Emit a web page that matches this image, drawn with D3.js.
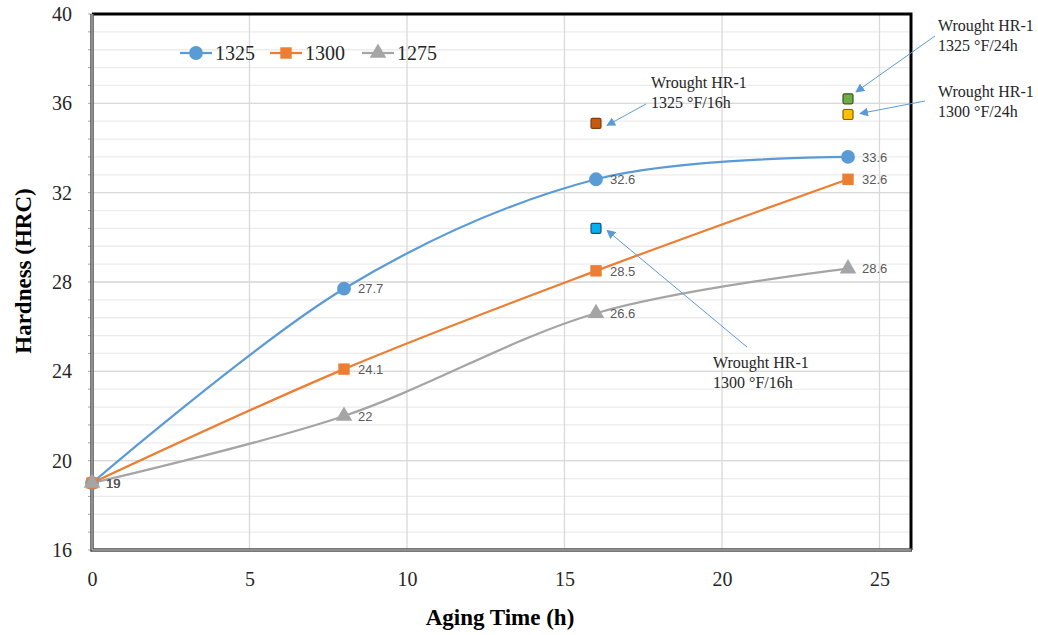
<!DOCTYPE html>
<html>
<head>
<meta charset="utf-8">
<title>Hardness vs aging time</title>
<script src="https://cdn.jsdelivr.net/npm/d3@7"></script>
<style>
  body { margin: 0; background: #fff; }
</style>
</head>
<body>
<script>

// Aging times (h) and hardness (HRC) per aging temperature
var times = [0, 8, 16, 24];
var hrc1325 = [19, 27.7, 32.6, 33.6];
var hrc1300 = [19, 24.1, 28.5, 32.6];
var hrc1275 = [19, 22, 26.6, 28.6];
var seriesNames = ["1325", "1300", "1275"];

// Wrought HR-1 reference points
var wroughtLabels = ["1325 °F/16h", "1300 °F/16h", "1325 °F/24h", "1300 °F/24h"];
var wroughtTimes = [16, 16, 24, 24];
var wroughtHrc = [35.1, 30.4, 36.2, 35.5];

// Tick labels
var xTicks = [0, 5, 10, 15, 20, 25];
var yTicks = [16, 20, 24, 28, 32, 36, 40];

drawChart();

function drawChart(){

  var w = 1038;
  var h = 635;
  var margin = {top: 14, right: 127, bottom: 85, left: 92};
  var gw = w - margin.left - margin.right;
  var gh = h - margin.top - margin.bottom;

  var svg = d3.select("body")
              .append("svg")
              .attr("width", w)
              .attr("height", h);

  var graph = svg.append("g")
                 .attr("transform", `translate(${margin.left}, ${margin.top})`);

  var xScale = d3.scaleLinear().domain([0, 26]).range([0, gw]);
  var yScale = d3.scaleLinear().domain([16, 40]).range([gh, 0]);

  // Minor horizontal gridlines (every 0.8)
  var minor = d3.range(16, 40.01, 0.8);
  graph.append("g").selectAll("line")
       .data(minor)
       .enter().append("line")
       .attr("x1", 0).attr("x2", gw)
       .attr("y1", d => yScale(d)).attr("y2", d => yScale(d))
       .attr("stroke", "#ececec")
       .attr("stroke-width", 1.3);

  // Major gridlines
  graph.append("g").selectAll("line")
       .data(yTicks)
       .enter().append("line")
       .attr("x1", 0).attr("x2", gw)
       .attr("y1", d => yScale(d)).attr("y2", d => yScale(d))
       .attr("stroke", "#d9d9d9")
       .attr("stroke-width", 1.3);

  graph.append("g").selectAll("line")
       .data(xTicks.slice(1))
       .enter().append("line")
       .attr("x1", d => xScale(d)).attr("x2", d => xScale(d))
       .attr("y1", 0).attr("y2", gh)
       .attr("stroke", "#d9d9d9")
       .attr("stroke-width", 1.3);

  // Small ticks on the left of the y axis
  graph.append("g").selectAll("line")
       .data(minor)
       .enter().append("line")
       .attr("x1", -4).attr("x2", 0)
       .attr("y1", d => yScale(d)).attr("y2", d => yScale(d))
       .attr("stroke", "#a6a6a6");

  // Frame: black top and right, double grey on left and bottom
  graph.append("path")
       .attr("d", `M0,0 H${gw} V${gh}`)
       .attr("fill", "none")
       .attr("stroke", "#000")
       .attr("stroke-width", 3);

  graph.append("path")
       .attr("d", `M0,0 V${gh} H${gw + 1}`)
       .attr("fill", "none")
       .attr("stroke", "#4d4d4d")
       .attr("stroke-width", 3.5);
  graph.append("path")
       .attr("d", `M0,0 V${gh} H${gw}`)
       .attr("fill", "none")
       .attr("stroke", "#d0d0d0")
       .attr("stroke-width", 1);

  // Axes (labels only)
  var xAxis = graph.append("g")
                   .attr("transform", `translate(0, ${gh})`)
                   .call(d3.axisBottom(xScale).tickValues(xTicks).tickSize(0).tickPadding(22));
  var yAxis = graph.append("g")
                   .call(d3.axisLeft(yScale).tickValues(yTicks).tickSize(0).tickPadding(20));

  [xAxis, yAxis].forEach(a => {
    a.select(".domain").remove();
    a.selectAll("text")
     .attr("font-family", "'Liberation Serif', 'Times New Roman', serif")
     .attr("font-size", 20)
     .attr("fill", "#262626");
  });

  // Axis titles
  svg.append("text")
     .attr("x", 500)
     .attr("y", 625)
     .attr("text-anchor", "middle")
     .attr("font-family", "'Liberation Serif', 'Times New Roman', serif")
     .attr("font-weight", "bold")
     .attr("font-size", 23)
     .text("Aging Time (h)");

  svg.append("text")
     .attr("transform", "translate(31, 271) rotate(-90)")
     .attr("text-anchor", "middle")
     .attr("font-family", "'Liberation Serif', 'Times New Roman', serif")
     .attr("font-weight", "bold")
     .attr("font-size", 23)
     .text("Hardness (HRC)");

  // Series
  var colors = ["#5b9bd5", "#ed7d31", "#a5a5a5"];
  var symbols = [d3.symbolCircle, d3.symbolSquare, d3.symbolTriangle];
  var sizes = [150, 130, 120];
  var allSeries = [hrc1325, hrc1300, hrc1275];

  var line = d3.line()
               .x((d, i) => xScale(times[i]))
               .y(d => yScale(d))
               .curve(d3.curveCardinal.tension(0));

  // draw in reverse so 1325 sits on top
  for (var s = 2; s >= 0; s--) {
    var vals = allSeries[s];
    graph.append("path")
         .attr("d", line(vals))
         .attr("fill", "none")
         .attr("stroke", colors[s])
         .attr("stroke-width", 2.25);
  }

  for (var s = 0; s < 3; s++) {
    var vals = allSeries[s];
    graph.append("g").selectAll("path")
         .data(vals)
         .enter().append("path")
         .attr("d", d3.symbol().type(symbols[s]).size(sizes[s]))
         .attr("transform", (d, i) => `translate(${xScale(times[i])}, ${yScale(d)})`)
         .attr("fill", colors[s]);

    graph.append("g").selectAll("text")
         .data(vals)
         .enter().append("text")
         .attr("x", (d, i) => xScale(times[i]) + 14)
         .attr("y", (d, i) => yScale(d))
         .attr("dy", "0.36em")
         .attr("font-family", "'Liberation Sans', Arial, sans-serif")
         .attr("font-size", 13)
         .attr("fill", "#595959")
         .text(d => d);
  }

  // Wrought HR-1 points
  var wFill = ["#c55a11", "#00b0f0", "#70ad47", "#ffc000"];
  var wStroke = ["#843c0c", "#1f4e79", "#385723", "#7f6000"];
  graph.append("g").selectAll("rect")
       .data(wroughtHrc)
       .enter().append("rect")
       .attr("x", (d, i) => xScale(wroughtTimes[i]) - 5)
       .attr("y", d => yScale(d) - 5)
       .attr("width", 10)
       .attr("height", 10)
       .attr("rx", 1.5)
       .attr("fill", (d, i) => wFill[i])
       .attr("stroke", (d, i) => wStroke[i])
       .attr("stroke-width", 1.2);

  // Callout boxes: text position and arrow start, arrow ends near the point
  var callouts = [
    {tx: 651, ty: 88, ax: 646, ay: 104, dx: 11, dy: 2},
    {tx: 713, ty: 368, ax: 747, ay: 347, dx: 11, dy: 2},
    {tx: 938, ty: 31, ax: 935, ay: 36, dx: 8, dy: -7},
    {tx: 938, ty: 97, ax: 925, ay: 101, dx: 12, dy: -1}
  ];

  var defs = svg.append("defs");
  defs.append("marker")
      .attr("id", "arrow")
      .attr("viewBox", "0 0 10 10")
      .attr("refX", 9).attr("refY", 5)
      .attr("markerWidth", 9).attr("markerHeight", 9)
      .attr("markerUnits", "userSpaceOnUse")
      .attr("orient", "auto")
      .append("path")
      .attr("d", "M0,0 L10,5 L0,10 Z")
      .attr("fill", "#5b9bd5");

  callouts.forEach((c, i) => {
    var px = margin.left + xScale(wroughtTimes[i]) + c.dx;
    var py = margin.top + yScale(wroughtHrc[i]) + c.dy;
    svg.append("line")
       .attr("x1", c.ax).attr("y1", c.ay)
       .attr("x2", px).attr("y2", py)
       .attr("stroke", "#5b9bd5")
       .attr("stroke-width", 1)
       .attr("marker-end", "url(#arrow)");

    var t = svg.append("text")
               .attr("font-family", "'Liberation Serif', 'Times New Roman', serif")
               .attr("font-size", 16)
               .attr("fill", "#262626");
    t.append("tspan").attr("x", c.tx).attr("y", c.ty).text("Wrought HR-1");
    t.append("tspan").attr("x", c.tx).attr("y", c.ty + 20).text(wroughtLabels[i]);
  });

  // Legend
  var legendX = [180, 270, 362];
  var legend = svg.append("g");
  seriesNames.forEach((name, i) => {
    var g = legend.append("g").attr("transform", `translate(${legendX[i]}, 53)`);
    g.append("line")
     .attr("x1", 0).attr("x2", 32)
     .attr("stroke", colors[i])
     .attr("stroke-width", 2.25);
    g.append("path")
     .attr("d", d3.symbol().type(symbols[i]).size(sizes[i]))
     .attr("transform", "translate(16, 0)")
     .attr("fill", colors[i]);
    g.append("text")
     .attr("x", 35)
     .attr("dy", "0.35em")
     .attr("font-family", "'Liberation Serif', 'Times New Roman', serif")
     .attr("font-size", 20)
     .attr("fill", "#262626")
     .text(name);
  });

};

</script>
</body>
</html>
